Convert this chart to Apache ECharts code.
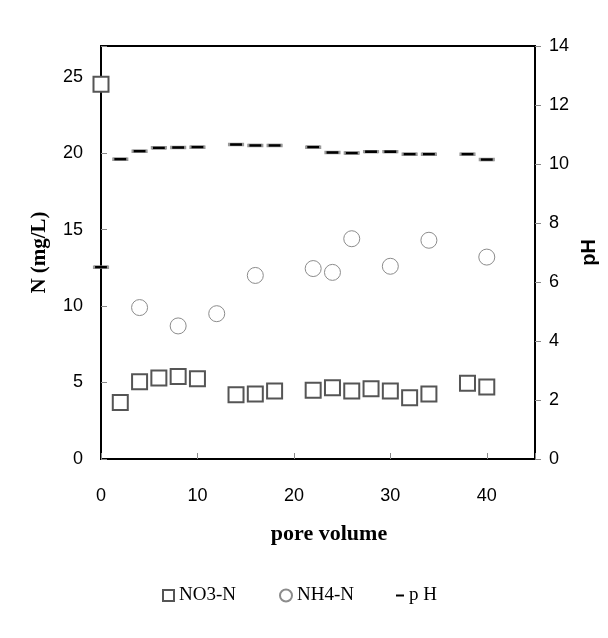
<!DOCTYPE html>
<html>
<head>
<meta charset="utf-8">
<script src="https://cdn.jsdelivr.net/npm/echarts@6/dist/echarts.min.js"></script>
<style>html,body{margin:0;padding:0;background:#fff;}#c{width:608px;height:638px;}</style>
</head>
<body>
<div id="c"></div>
<script>
// Data
const poreNO3 = [0, 2, 4, 6, 8, 10, 14, 16, 18, 22, 24, 26, 28, 30, 32, 34, 38, 40];
const no3N    = [24.5, 3.7, 5.05, 5.3, 5.4, 5.25, 4.2, 4.25, 4.45, 4.5, 4.65, 4.45, 4.6, 4.45, 4.0, 4.25, 4.95, 4.7];
const poreNH4 = [4, 8, 12, 16, 22, 24, 26, 30, 34, 40];
const nh4N    = [9.9, 8.7, 9.5, 12.0, 12.45, 12.2, 14.4, 12.6, 14.3, 13.2];
const porePH  = [0, 2, 4, 6, 8, 10, 14, 16, 18, 22, 24, 26, 28, 30, 32, 34, 38, 40];
const pH      = [6.5, 10.16, 10.43, 10.55, 10.56, 10.57, 10.66, 10.63, 10.63, 10.57, 10.39, 10.37, 10.42, 10.42, 10.33, 10.33, 10.33, 10.15];
const xTicks  = [0, 10, 20, 30, 40];
const leftTicks  = [0, 5, 10, 15, 20, 25];
const rightTicks = [0, 2, 4, 6, 8, 10, 12, 14];

const zip = (xs, ys) => xs.map((x, i) => [x, ys[i]]);
const sans = 'Liberation Sans, Arial, sans-serif';
const serif = 'Liberation Serif, Times New Roman, serif';

const chart = echarts.init(document.getElementById('c'), null, {renderer: 'canvas'});
chart.setOption({
  animation: false,
  backgroundColor: '#fff',
  grid: {left: 101, right: 73, top: 46, bottom: 179, show: true, borderColor: '#000', borderWidth: 2, backgroundColor: 'transparent'},
  xAxis: {
    type: 'value', min: 0, max: 45, interval: 10,
    name: 'pore volume', nameLocation: 'middle', nameGap: 64,
    nameTextStyle: {fontFamily: serif, fontWeight: 'bold', fontSize: 22, color: '#000', padding: [0, 0, 0, 22]},
    axisLine: {show: true, lineStyle: {color: '#000', width: 2}},
    axisTick: {show: true, inside: true, length: 6, lineStyle: {color: '#888', width: 1}},
    axisLabel: {fontFamily: sans, fontSize: 18, color: '#000', margin: 28,
      formatter: v => xTicks.includes(v) ? String(v) : ''},
    splitLine: {show: false}
  },
  yAxis: [{
    type: 'value', min: 0, max: 27, interval: 5, position: 'left',
    name: 'N (mg/L)', nameLocation: 'middle', nameGap: 51, nameRotate: 90,
    nameTextStyle: {fontFamily: serif, fontWeight: 'bold', fontSize: 21, color: '#000'},
    axisLine: {show: true, lineStyle: {color: '#000', width: 2}},
    axisTick: {show: true, inside: true, length: 6, lineStyle: {color: '#888', width: 1}},
    axisLabel: {fontFamily: sans, fontSize: 18, color: '#000', margin: 18,
      formatter: v => leftTicks.includes(v) ? String(v) : ''},
    splitLine: {show: false}
  }, {
    type: 'value', min: 0, max: 14, interval: 2, position: 'right',
    name: 'pH', nameLocation: 'middle', nameGap: 35, nameRotate: 90,
    nameTextStyle: {fontFamily: sans, fontWeight: 'bold', fontSize: 20, color: '#000'},
    axisLine: {show: true, lineStyle: {color: '#000', width: 2}},
    axisTick: {show: true, inside: false, length: 6, lineStyle: {color: '#888', width: 1}},
    axisLabel: {fontFamily: sans, fontSize: 18, color: '#000', margin: 14,
      formatter: v => rightTicks.includes(v) ? String(v) : ''},
    splitLine: {show: false}
  }],
  legend: [{
    left: 157, top: 581, itemWidth: 11, itemHeight: 11, itemGap: 0,
    textStyle: {fontFamily: serif, fontSize: 19, color: '#000'},
    data: [{name: 'NO3-N', icon: 'rect'}]
  }, {
    left: 274, top: 581, itemWidth: 12, itemHeight: 12, itemGap: 0,
    textStyle: {fontFamily: serif, fontSize: 19, color: '#000'},
    data: [{name: 'NH4-N', icon: 'circle'}]
  }, {
    left: 391, top: 581, itemWidth: 8, itemHeight: 2, itemGap: 0,
    textStyle: {fontFamily: serif, fontSize: 19, color: '#000'},
    data: [{name: 'p H', icon: 'rect', itemStyle: {color: '#000', borderWidth: 0}}]
  }],
  series: [{
    name: 'NO3-N', type: 'scatter', yAxisIndex: 0, clip: false,
    symbol: 'rect', symbolSize: 15,
    itemStyle: {color: '#fff', borderColor: '#555', borderWidth: 2, opacity: 1},
    data: zip(poreNO3, no3N), z: 3
  }, {
    name: 'NH4-N', type: 'scatter', yAxisIndex: 0, clip: false,
    symbol: 'circle', symbolSize: 16,
    itemStyle: {color: '#fff', borderColor: '#8c8c8c', borderWidth: 1, opacity: 1},
    data: zip(poreNH4, nh4N), z: 3
  }, {
    name: 'p H', type: 'scatter', yAxisIndex: 1, clip: false,
    symbol: 'rect', symbolSize: [14, 3],
    itemStyle: {color: '#000', borderColor: '#999', borderWidth: 1, opacity: 1},
    data: zip(porePH, pH), z: 4
  }]
});
</script>
</body>
</html>
